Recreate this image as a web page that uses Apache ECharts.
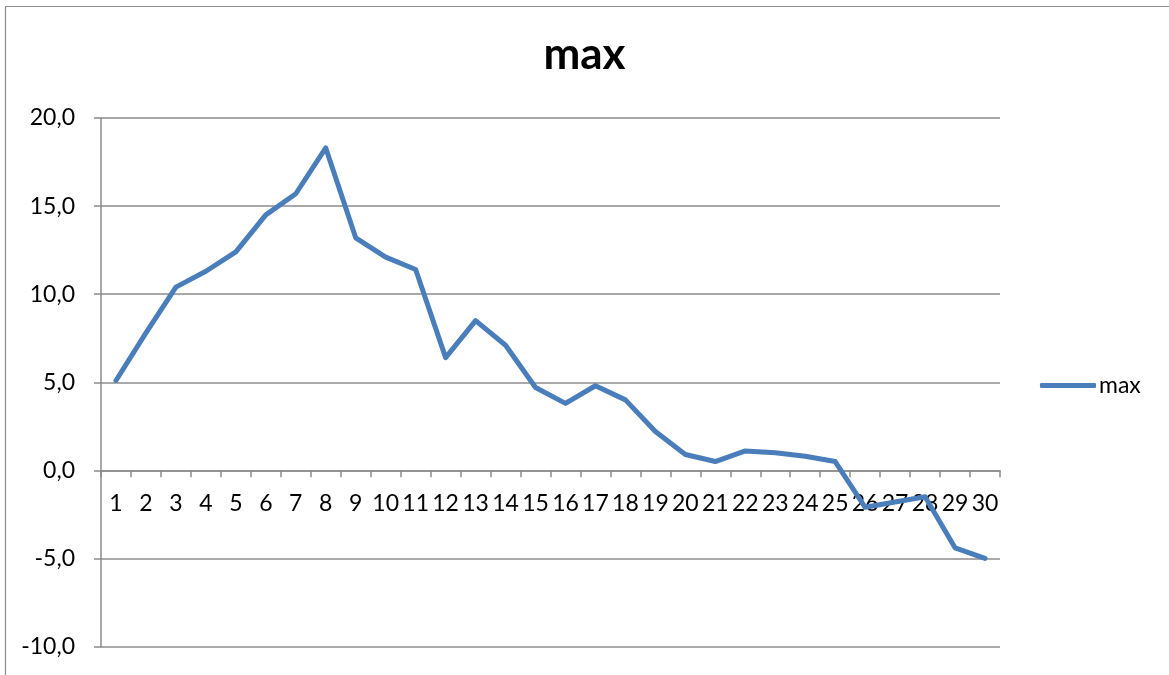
<!DOCTYPE html>
<html>
<head>
<meta charset="utf-8">
<script src="https://cdn.jsdelivr.net/npm/echarts@6/dist/echarts.min.js"></script>
<style>
html,body{margin:0;padding:0;background:#fff;}
#chart{width:1169px;height:675px;}
</style>
</head>
<body>
<div id="chart"></div>
<script>
var categories = ['1','2','3','4','5','6','7','8','9','10','11','12','13','14','15','16','17','18','19','20','21','22','23','24','25','26','27','28','29','30'];
var maxValues = [5.1, 7.8, 10.4, 11.3, 12.4, 14.5, 15.7, 18.3, 13.2, 12.1, 11.4, 6.4, 8.5, 7.1, 4.7, 3.8, 4.8, 4.0, 2.2, 0.9, 0.5, 1.1, 1.0, 0.8, 0.5, -2.1, -1.8, -1.5, -4.4, -5.0];
var seriesName = 'max';
var titleText = 'max';
var yMin = -10, yMax = 20, yStep = 5;

var FONT = 'Lato, "Open Sans", sans-serif';
var gridTop = 118, gridBottom = 28.5, H = 675;
var plotH = H - gridTop - gridBottom;
// offset that moves the category axis from the grid bottom up to the value 0
var zeroOffset = -(plotH * (0 - yMin) / (yMax - yMin));

var chart = echarts.init(document.getElementById('chart'), null, {renderer: 'canvas'});
chart.setOption({
  animation: false,
  backgroundColor: '#ffffff',
  graphic: [{
    type: 'rect',
    shape: {x: 5.5, y: 6.5, width: 1200, height: 720},
    style: {fill: 'none', stroke: '#8c8c8c', lineWidth: 1.2},
    silent: true,
    z: -1
  }],
  title: {
    text: titleText,
    left: 'center',
    top: 28,
    textStyle: {fontFamily: FONT, fontSize: 44, fontWeight: 'bold', color: '#000'}
  },
  legend: {
    data: [seriesName],
    left: 1035,
    top: 369,
    icon: 'roundRect',
    itemWidth: 56,
    itemHeight: 5,
    textStyle: {fontFamily: FONT, fontSize: 23, color: '#000', padding: [0,0,0,-2]}
  },
  grid: {left: 101, right: 169, top: gridTop, bottom: gridBottom, containLabel: false, outerBoundsMode: 'none'},
  xAxis: {
    type: 'category',
    data: categories,
    boundaryGap: true,
    offset: zeroOffset,
    axisLine: {show: true, onZero: false, lineStyle: {color: '#8c8c8c', width: 1.5}},
    axisTick: {show: true, length: 7, inside: false, lineStyle: {color: '#8c8c8c', width: 1.5}},
    axisLabel: {fontFamily: FONT, fontSize: 23, color: '#000', margin: 22, interval: 0},
    splitLine: {show: false}
  },
  yAxis: {
    type: 'value',
    min: yMin,
    max: yMax,
    interval: yStep,
    axisLine: {show: true, lineStyle: {color: '#8c8c8c', width: 1.5}},
    axisTick: {show: true, length: 7, inside: false, lineStyle: {color: '#8c8c8c', width: 1.5}},
    axisLabel: {
      fontFamily: FONT, fontSize: 23, color: '#000', margin: 26,
      formatter: function (v) { return v.toFixed(1).replace('.', ','); }
    },
    splitLine: {show: true, lineStyle: {color: '#8c8c8c', width: 1.5}}
  },
  series: [{
    name: seriesName,
    type: 'line',
    data: maxValues,
    symbol: 'none',
    showSymbol: false,
    color: '#4a7ebb',
    lineStyle: {color: '#4a7ebb', width: 5, join: 'round', cap: 'round'},
    z: 3
  }]
});
</script>
</body>
</html>
